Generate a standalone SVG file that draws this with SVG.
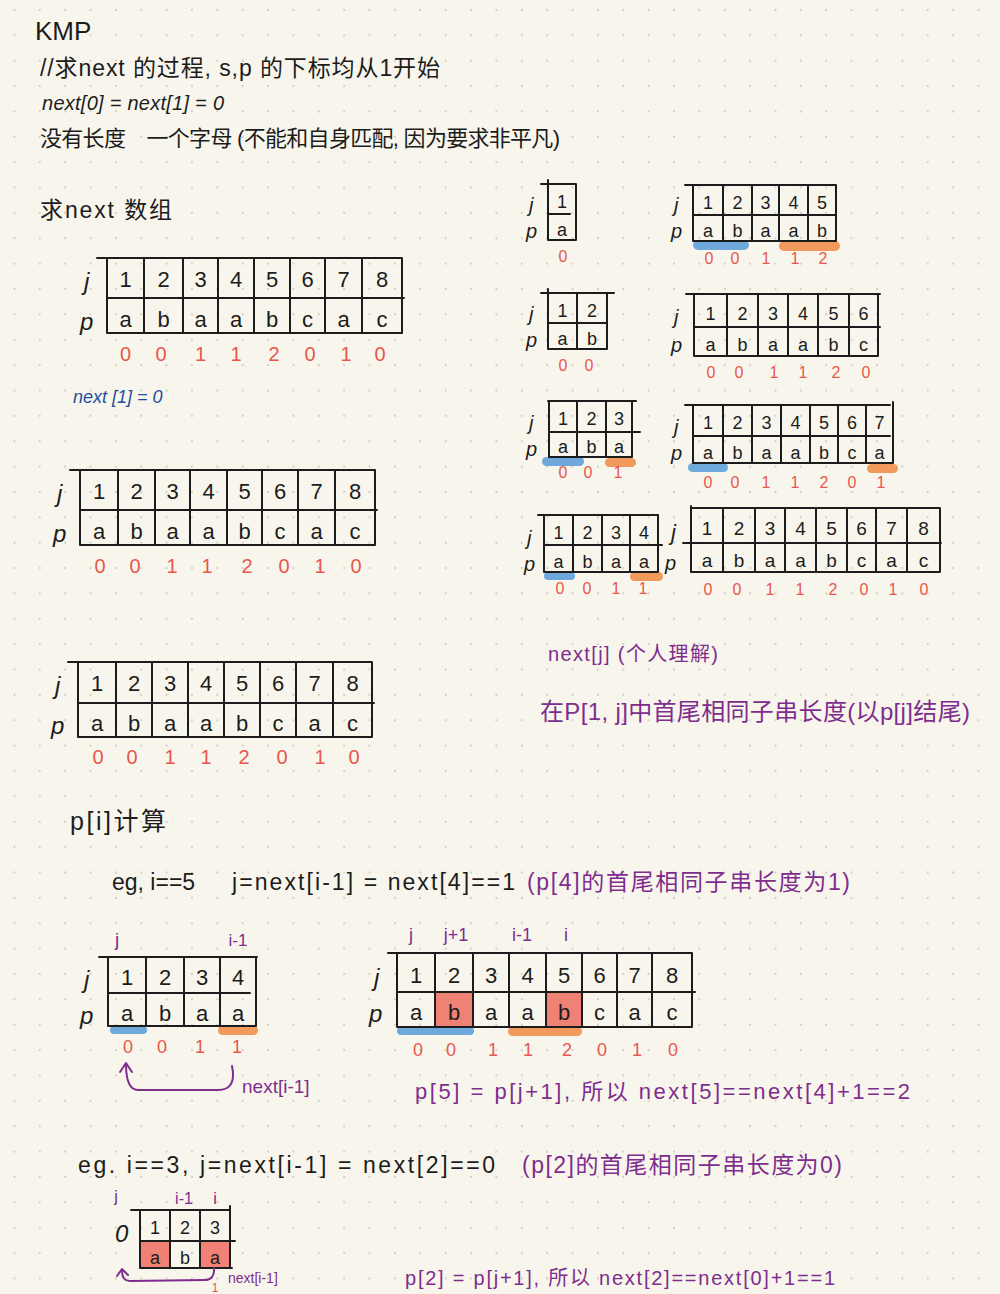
<svg xmlns="http://www.w3.org/2000/svg" width="1000" height="1294" viewBox="0 0 1000 1294">
<defs>
<pattern id="dots" x="1.7" y="-2.7" width="25.37" height="25.37" patternUnits="userSpaceOnUse">
<circle cx="12.68" cy="12.68" r="1.1" fill="#cfccc2"/>
</pattern>
<style>
.ln{fill:none;stroke:#1c1c1c;stroke-width:2;stroke-linecap:round}
.pl{fill:none;stroke:#7e2d8e;stroke-width:2;stroke-linecap:round;stroke-linejoin:round}
text{font-family:"Liberation Sans","Noto Sans CJK SC",sans-serif}
.t{fill:#1c1c1c}
.c{text-anchor:middle}
.r{fill:#e8564d;text-anchor:middle}
.pu{fill:#7e2d8e}
.bl{fill:#1f4f9c}
.hb{fill:#6fa9dc}
.ho{fill:#f29a5c}
.hr{fill:#ee7468;opacity:0.9}
.lab{fill:#1c1c1c;font-size:24px;font-style:italic}
</style>
</defs>
<rect width="1000" height="1294" fill="#f8f6ec"/>
<rect width="1000" height="1294" fill="url(#dots)"/>

<g id="header">
<text class="t" x="35" y="40" font-size="26">KMP</text>
<text class="t" x="40" y="76" font-size="23" textLength="400" lengthAdjust="spacing">//求next 的过程, s,p 的下标均从1开始</text>
<text class="t" x="42" y="110" font-size="20" font-style="italic" textLength="182" lengthAdjust="spacing">next[0] = next[1] = 0</text>
<text class="t" x="40" y="146" font-size="22" textLength="520" lengthAdjust="spacing">没有长度　一个字母 (不能和自身匹配, 因为要求非平凡)</text>
<text class="t" x="40" y="218" font-size="23" textLength="132" lengthAdjust="spacing">求next 数组</text>
</g>

<g id="table-main-1">
<path class="ln" d="M97,258H402M107,258V333M144,258V333M183,258V333M218,258V333M254,258V333M290,258V333M325,258V333M362,258V333M402,258V333M107,298H404M107,333H402"/>
<text class="lab" x="84" y="290">j</text><text class="lab" x="80" y="330">p</text>
<g class="t c" font-size="22">
<text x="125.5" y="287">1</text><text x="163.5" y="287">2</text><text x="200.5" y="287">3</text><text x="236" y="287">4</text><text x="272" y="287">5</text><text x="307.5" y="287">6</text><text x="343.5" y="287">7</text><text x="382" y="287">8</text>
<text x="125.5" y="327">a</text><text x="163.5" y="327">b</text><text x="200.5" y="327">a</text><text x="236" y="327">a</text><text x="272" y="327">b</text><text x="307.5" y="327">c</text><text x="343.5" y="327">a</text><text x="382" y="327">c</text>
</g>
<g font-size="20">
<text class="r" x="125.5" y="361">0</text><text class="r" x="161" y="361">0</text><text class="r" x="200.5" y="361">1</text><text class="r" x="236" y="361">1</text><text class="r" x="274" y="361">2</text><text class="r" x="310" y="361">0</text><text class="r" x="346" y="361">1</text><text class="r" x="380" y="361">0</text>
</g>
<text class="bl" x="73" y="403" font-size="18" font-style="italic">next [1] = 0</text>
</g>

<g id="table-main-2">
<path class="ln" d="M70,470H375M80,470V545M118,470V545M155,470V545M190,470V545M227,470V545M262,470V545M298,470V545M335,470V545M375,470V545M80,510H377M80,545H375"/>
<text class="lab" x="57" y="502">j</text><text class="lab" x="53" y="542">p</text>
<g class="t c" font-size="22">
<text x="99" y="499">1</text><text x="136.5" y="499">2</text><text x="172.5" y="499">3</text><text x="208.5" y="499">4</text><text x="244.5" y="499">5</text><text x="280" y="499">6</text><text x="316.5" y="499">7</text><text x="355" y="499">8</text>
<text x="99" y="539">a</text><text x="136.5" y="539">b</text><text x="172.5" y="539">a</text><text x="208.5" y="539">a</text><text x="244.5" y="539">b</text><text x="280" y="539">c</text><text x="316.5" y="539">a</text><text x="355" y="539">c</text>
</g>
<g font-size="20">
<text class="r" x="100" y="573">0</text><text class="r" x="135" y="573">0</text><text class="r" x="172" y="573">1</text><text class="r" x="207" y="573">1</text><text class="r" x="247" y="573">2</text><text class="r" x="284" y="573">0</text><text class="r" x="320" y="573">1</text><text class="r" x="356" y="573">0</text>
</g>
</g>

<g id="table-main-3">
<path class="ln" d="M68,662H372M78,662V737M116,662V737M152,662V737M188,662V737M224,662V737M260,662V737M296,662V737M333,662V737M372,662V737M78,703H374M78,737H372"/>
<text class="lab" x="55" y="694">j</text><text class="lab" x="51" y="734">p</text>
<g class="t c" font-size="22">
<text x="97" y="691">1</text><text x="134" y="691">2</text><text x="170" y="691">3</text><text x="206" y="691">4</text><text x="242" y="691">5</text><text x="278" y="691">6</text><text x="314.5" y="691">7</text><text x="352.5" y="691">8</text>
<text x="97" y="731">a</text><text x="134" y="731">b</text><text x="170" y="731">a</text><text x="206" y="731">a</text><text x="242" y="731">b</text><text x="278" y="731">c</text><text x="314.5" y="731">a</text><text x="352.5" y="731">c</text>
</g>
<g font-size="20">
<text class="r" x="98" y="764">0</text><text class="r" x="132" y="764">0</text><text class="r" x="170" y="764">1</text><text class="r" x="206" y="764">1</text><text class="r" x="244" y="764">2</text><text class="r" x="282" y="764">0</text><text class="r" x="320" y="764">1</text><text class="r" x="354" y="764">0</text>
</g>
</g>

<g id="small-1">
<path class="ln" d="M541,184H576M548,180V240M576,184V240M548,214H570M548,240H576"/>
<text class="t" x="529" y="212" font-size="20" font-style="italic">j</text><text class="t" x="526" y="238" font-size="20" font-style="italic">p</text>
<g class="t c" font-size="18"><text x="562" y="208">1</text><text x="562" y="236">a</text></g>
<text class="r" x="563" y="262" font-size="16">0</text>
</g>

<g id="small-5">
<rect class="hb" x="693" y="240" width="56" height="10" rx="5"/>
<rect class="ho" x="779" y="241" width="61" height="10" rx="5"/>
<path class="ln" d="M685,185H836M693,185V241M723,185V241M752,185V241M779,185V241M808,185V241M836,185V241M693,215H836M693,241H836"/>
<text class="t" x="674" y="212" font-size="20" font-style="italic">j</text><text class="t" x="671" y="238" font-size="20" font-style="italic">p</text>
<g class="t c" font-size="18">
<text x="708" y="209">1</text><text x="737.5" y="209">2</text><text x="765.5" y="209">3</text><text x="793.5" y="209">4</text><text x="822" y="209">5</text>
<text x="708" y="237">a</text><text x="737.5" y="237">b</text><text x="765.5" y="237">a</text><text x="793.5" y="237">a</text><text x="822" y="237">b</text>
</g>
<g font-size="16"><text class="r" x="709" y="264">0</text><text class="r" x="735" y="264">0</text><text class="r" x="766" y="264">1</text><text class="r" x="795" y="264">1</text><text class="r" x="823" y="264">2</text></g>
</g>

<g id="small-2">
<path class="ln" d="M541,293H614M548,289V349M577,293V349M607,293V349M548,323H607M548,349H607"/>
<text class="t" x="529" y="321" font-size="20" font-style="italic">j</text><text class="t" x="526" y="347" font-size="20" font-style="italic">p</text>
<g class="t c" font-size="18"><text x="562.5" y="317">1</text><text x="592" y="317">2</text><text x="562.5" y="345">a</text><text x="592" y="345">b</text></g>
<g font-size="16"><text class="r" x="563" y="371">0</text><text class="r" x="589" y="371">0</text></g>
</g>

<g id="small-6">
<path class="ln" d="M686,294H880M694,294V356M727,294V356M758,294V356M788,294V356M818,294V356M849,294V356M878,294V356M694,327H880M694,356H878"/>
<text class="t" x="674" y="324" font-size="20" font-style="italic">j</text><text class="t" x="671" y="352" font-size="20" font-style="italic">p</text>
<g class="t c" font-size="18">
<text x="710.5" y="320">1</text><text x="742.5" y="320">2</text><text x="773" y="320">3</text><text x="803" y="320">4</text><text x="833.5" y="320">5</text><text x="863.5" y="320">6</text>
<text x="710.5" y="351">a</text><text x="742.5" y="351">b</text><text x="773" y="351">a</text><text x="803" y="351">a</text><text x="833.5" y="351">b</text><text x="863.5" y="351">c</text>
</g>
<g font-size="16"><text class="r" x="711" y="378">0</text><text class="r" x="739" y="378">0</text><text class="r" x="774" y="378">1</text><text class="r" x="803" y="378">1</text><text class="r" x="836" y="378">2</text><text class="r" x="866" y="378">0</text></g>
</g>

<g id="small-3">
<rect class="hb" x="542" y="457" width="42" height="9" rx="4.5"/>
<rect class="ho" x="605" y="458" width="31" height="9" rx="4.5"/>
<path class="ln" d="M548,401H636M549,401V457M577,401V457M606,401V457M632,401V457M549,432H640M549,457H632"/>
<text class="t" x="529" y="430" font-size="20" font-style="italic">j</text><text class="t" x="526" y="456" font-size="20" font-style="italic">p</text>
<g class="t c" font-size="18">
<text x="563" y="425">1</text><text x="591.5" y="425">2</text><text x="619" y="425">3</text>
<text x="563" y="453">a</text><text x="591.5" y="453">b</text><text x="619" y="453">a</text>
</g>
<g font-size="16"><text class="r" x="563" y="478">0</text><text class="r" x="588" y="478">0</text><text class="r" x="618" y="478">1</text></g>
</g>

<g id="small-7">
<rect class="hb" x="688" y="463" width="40" height="9" rx="4.5"/>
<rect class="ho" x="867" y="464" width="31" height="9" rx="4.5"/>
<path class="ln" d="M685,405H890M693,405V463M723,405V463M752,405V463M781,405V463M810,405V463M838,405V463M866,405V463M893,402V463M693,436H890M693,463H893"/>
<text class="t" x="674" y="434" font-size="20" font-style="italic">j</text><text class="t" x="671" y="460" font-size="20" font-style="italic">p</text>
<g class="t c" font-size="18">
<text x="708" y="429">1</text><text x="737.5" y="429">2</text><text x="766.5" y="429">3</text><text x="795.5" y="429">4</text><text x="824" y="429">5</text><text x="852" y="429">6</text><text x="879.5" y="429">7</text>
<text x="708" y="459">a</text><text x="737.5" y="459">b</text><text x="766.5" y="459">a</text><text x="795.5" y="459">a</text><text x="824" y="459">b</text><text x="852" y="459">c</text><text x="879.5" y="459">a</text>
</g>
<g font-size="16"><text class="r" x="708" y="488">0</text><text class="r" x="735" y="488">0</text><text class="r" x="766" y="488">1</text><text class="r" x="795" y="488">1</text><text class="r" x="824" y="488">2</text><text class="r" x="852" y="488">0</text><text class="r" x="881" y="488">1</text></g>
</g>

<g id="small-4">
<rect class="hb" x="544" y="572" width="31" height="8" rx="4"/>
<rect class="ho" x="630" y="572" width="33" height="9" rx="4.5"/>
<path class="ln" d="M538,515H658M544,515V572M573,515V572M602,515V572M630,515V572M658,515V572M544,545H662M544,572H658"/>
<text class="t" x="527" y="545" font-size="20" font-style="italic">j</text><text class="t" x="524" y="571" font-size="20" font-style="italic">p</text>
<g class="t c" font-size="18">
<text x="558.5" y="539">1</text><text x="587.5" y="539">2</text><text x="616" y="539">3</text><text x="644" y="539">4</text>
<text x="558.5" y="568">a</text><text x="587.5" y="568">b</text><text x="616" y="568">a</text><text x="644" y="568">a</text>
</g>
<g font-size="16"><text class="r" x="560" y="594">0</text><text class="r" x="587" y="594">0</text><text class="r" x="616" y="594">1</text><text class="r" x="643" y="594">1</text></g>
</g>

<g id="small-8">
<path class="ln" d="M691,506V572M691,508H940M723,508V572M755,508V572M785,508V572M816,508V572M847,508V572M876,508V572M907,508V572M940,508V572M683,543H941M691,572H940"/>
<text class="t" x="671" y="540" font-size="22" font-style="italic">j</text><text class="t" x="665" y="570" font-size="20" font-style="italic">p</text>
<g class="t c" font-size="19">
<text x="707" y="535">1</text><text x="739" y="535">2</text><text x="770" y="535">3</text><text x="800.5" y="535">4</text><text x="831.5" y="535">5</text><text x="861.5" y="535">6</text><text x="891.5" y="535">7</text><text x="923.5" y="535">8</text>
<text x="707" y="567">a</text><text x="739" y="567">b</text><text x="770" y="567">a</text><text x="800.5" y="567">a</text><text x="831.5" y="567">b</text><text x="861.5" y="567">c</text><text x="891.5" y="567">a</text><text x="923.5" y="567">c</text>
</g>
<g font-size="16"><text class="r" x="708" y="595">0</text><text class="r" x="737" y="595">0</text><text class="r" x="770" y="595">1</text><text class="r" x="800" y="595">1</text><text class="r" x="833" y="595">2</text><text class="r" x="864" y="595">0</text><text class="r" x="893" y="595">1</text><text class="r" x="924" y="595">0</text></g>
</g>

<g id="note-next">
<text class="pu" x="548" y="661" font-size="20" textLength="170" lengthAdjust="spacing">next[j] (个人理解)</text>
<text class="pu" x="540" y="720" font-size="24" textLength="430" lengthAdjust="spacing">在P[1, j]中首尾相同子串长度(以p[j]结尾)</text>
</g>

<g id="section-calc">
<text class="t" x="70" y="830" font-size="25" textLength="96" lengthAdjust="spacing">p[i]计算</text>
<text class="t" x="112" y="890" font-size="23">eg, i==5</text>
<text class="t" x="232" y="890" font-size="23" textLength="283" lengthAdjust="spacing">j=next[i-1] = next[4]==1</text>
<text class="pu" x="527" y="890" font-size="23" textLength="323" lengthAdjust="spacing">(p[4]的首尾相同子串长度为1)</text>
</g>

<g id="example1-left">
<rect class="hb" x="110" y="1026" width="37" height="8" rx="4"/>
<rect class="ho" x="218" y="1026" width="40" height="9" rx="4.5"/>
<path class="ln" d="M99,957H257M108,957V1026M146,957V1026M184,957V1026M220,957V1026M256,957V1026M108,993H250M108,1026H256"/>
<text class="lab" x="84" y="988">j</text><text class="lab" x="80" y="1024">p</text>
<text class="pu" x="115" y="946" font-size="19">j</text>
<text class="pu" x="238" y="946" font-size="17" text-anchor="middle">i-1</text>
<g class="t c" font-size="22">
<text x="127" y="985">1</text><text x="165" y="985">2</text><text x="202" y="985">3</text><text x="238" y="985">4</text>
<text x="127" y="1021">a</text><text x="165" y="1021">b</text><text x="202" y="1021">a</text><text x="238" y="1021">a</text>
</g>
<g font-size="18"><text class="r" x="128" y="1053">0</text><text class="r" x="162" y="1053">0</text><text class="r" x="200" y="1053">1</text><text class="r" x="237" y="1053">1</text></g>
</g>

<g id="example1-right">
<rect class="hr" x="435" y="992" width="38" height="35"/>
<rect class="hr" x="546" y="992" width="36" height="35"/>
<rect class="hb" x="397" y="1027" width="77" height="8" rx="4"/>
<rect class="ho" x="508" y="1027" width="74" height="9" rx="4.5"/>
<path class="ln" d="M388,953H692M397,953V1027M435,953V1027M473,953V1027M509,953V1027M546,953V1027M582,953V1027M617,953V1027M652,953V1027M692,953V1027M397,992H695M397,1027H692"/>
<text class="lab" x="374" y="986">j</text><text class="lab" x="369" y="1022">p</text>
<g class="pu" font-size="18" text-anchor="middle">
<text x="411" y="941">j</text><text x="456" y="941">j+1</text><text x="522" y="941">i-1</text><text x="566" y="941">i</text>
</g>
<g class="t c" font-size="22">
<text x="416" y="983">1</text><text x="454" y="983">2</text><text x="491" y="983">3</text><text x="527.5" y="983">4</text><text x="564" y="983">5</text><text x="599.5" y="983">6</text><text x="634.5" y="983">7</text><text x="672" y="983">8</text>
<text x="416" y="1020">a</text><text x="454" y="1020">b</text><text x="491" y="1020">a</text><text x="527.5" y="1020">a</text><text x="564" y="1020">b</text><text x="599.5" y="1020">c</text><text x="634.5" y="1020">a</text><text x="672" y="1020">c</text>
</g>
<g font-size="18"><text class="r" x="418" y="1056">0</text><text class="r" x="451" y="1056">0</text><text class="r" x="493" y="1056">1</text><text class="r" x="528" y="1056">1</text><text class="r" x="567" y="1056">2</text><text class="r" x="602" y="1056">0</text><text class="r" x="637" y="1056">1</text><text class="r" x="673" y="1056">0</text></g>
<text class="pu" x="415" y="1099" font-size="22" textLength="495" lengthAdjust="spacing">p[5] = p[j+1], 所以 next[5]==next[4]+1==2</text>
</g>

<g id="example2">
<text class="t" x="78" y="1173" font-size="23" textLength="417" lengthAdjust="spacing">eg. i==3, j=next[i-1] = next[2]==0</text>
<text class="pu" x="522" y="1173" font-size="23" textLength="320" lengthAdjust="spacing">(p[2]的首尾相同子串长度为0)</text>
<rect class="hr" x="140" y="1241" width="30" height="27"/>
<rect class="hr" x="200" y="1241" width="30" height="27"/>
<path class="ln" d="M131,1210H230M140,1210V1268M170,1210V1268M200,1210V1268M230,1206V1268M140,1241H235M140,1268H232"/>
<text class="t" x="115" y="1242" font-size="24" font-style="italic">0</text>
<g class="pu" font-size="16" text-anchor="middle">
<text x="116" y="1202">j</text><text x="184" y="1204">i-1</text><text x="215" y="1204">i</text>
</g>
<g class="t c" font-size="18">
<text x="155" y="1234">1</text><text x="185" y="1234">2</text><text x="215" y="1234">3</text>
<text x="155" y="1264">a</text><text x="185" y="1264">b</text><text x="215" y="1264">a</text>
</g>
<text class="r" x="215" y="1292" font-size="12">1</text>
<text class="pu" x="405" y="1285" font-size="20" textLength="430" lengthAdjust="spacing">p[2] = p[j+1], 所以 next[2]==next[0]+1==1</text>
</g>

<g id="connectors">
<path class="pl" d="M232,1066 Q237,1090 218,1090 L138,1090 Q126,1090 126,1064"/>
<path class="pl" d="M120,1072 L126,1063 L132,1072"/>
<text class="pu" x="242" y="1093" font-size="19">next[i-1]</text>
<path class="pl" d="M214,1268 Q215,1280 204,1280 L130,1281 Q122,1281 122,1271"/>
<path class="pl" d="M117,1276 L122,1269 L128,1275"/>
<text class="pu" x="228" y="1283" font-size="14">next[i-1]</text>
</g>
</svg>
